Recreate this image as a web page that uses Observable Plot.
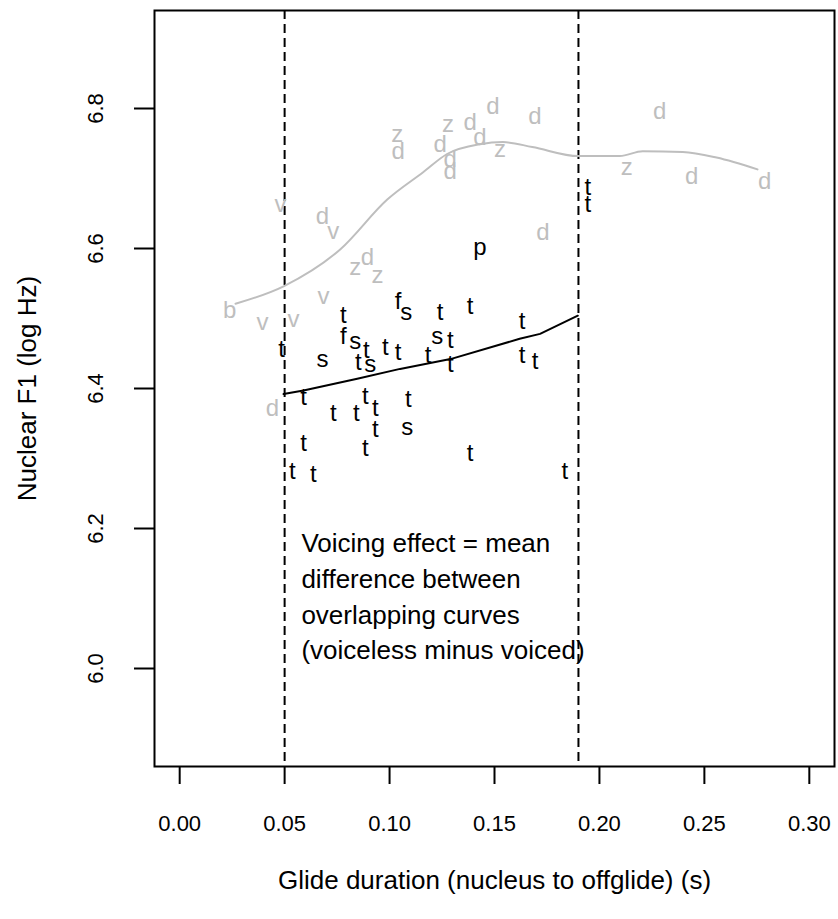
<!DOCTYPE html>
<html>
<head>
<meta charset="utf-8">
<script src="https://cdn.jsdelivr.net/npm/d3@7"></script>
<script src="https://cdn.jsdelivr.net/npm/@observablehq/plot@0.6"></script>
<style>
  html, body { margin: 0; padding: 0; background: #fff; }
</style>
</head>
<body>
<div id="chart"></div>
<script>
// Voiced tokens (grey letters)
const voicedLabel = ["b","v","v","v","v","d","v","z","d","z","z","d","d","d","z","d","d","d","d","z","d","d","d","z","d","d","d"];
const voicedX = [0.0238,0.0395,0.0542,0.048,0.0685,0.068,0.0732,0.0837,0.0894,0.0942,0.1037,0.1041,0.0442,0.1241,0.1279,0.1384,0.1431,0.1493,0.1693,0.1526,0.1289,0.1289,0.2287,0.213,0.2439,0.2787,0.1731];
const voicedY = [6.511,6.495,6.499,6.663,6.532,6.646,6.625,6.573,6.588,6.561,6.763,6.739,6.371,6.749,6.777,6.780,6.759,6.803,6.789,6.742,6.728,6.710,6.796,6.716,6.703,6.696,6.623];

// Voiceless tokens (black letters)
const voicelessLabel = ["t","s","t","f","s","t","t","s","t","t","f","s","t","t","s","t","t","t","t","t","t","p","t","t","t","t","t","t","t","t","t","s","t","t","t","t","t","t"];
const voicelessX = [0.0485,0.068,0.078,0.078,0.0837,0.0889,0.0851,0.0908,0.098,0.1041,0.1041,0.1079,0.1241,0.1384,0.1227,0.1289,0.1184,0.1289,0.1631,0.1631,0.1693,0.1431,0.1945,0.1945,0.059,0.0732,0.0842,0.0884,0.0932,0.0932,0.1089,0.1084,0.059,0.0884,0.0537,0.0637,0.1384,0.1835];
const voicelessY = [6.456,6.442,6.505,6.475,6.468,6.454,6.438,6.435,6.459,6.452,6.525,6.509,6.509,6.518,6.474,6.469,6.447,6.434,6.496,6.448,6.439,6.602,6.688,6.663,6.387,6.364,6.364,6.389,6.371,6.342,6.385,6.344,6.321,6.314,6.282,6.278,6.307,6.282];

// Smoothed curves
const voicedCurveX = [0.0266,0.0495,0.0766,0.0989,0.116,0.1274,0.1431,0.154,0.168,0.190,0.2097,0.2206,0.2397,0.2558,0.2753];
const voicedCurveY = [6.521,6.546,6.599,6.670,6.709,6.735,6.749,6.752,6.745,6.732,6.732,6.739,6.738,6.730,6.713];
const voicelessCurveX = [0.0495,0.059,0.0846,0.105,0.129,0.162,0.1717,0.1897];
const voicelessCurveY = [6.392,6.397,6.414,6.428,6.442,6.471,6.478,6.504];

// Overlap window
const overlapBounds = [0.05, 0.19];

// Axes
const xTicks = [0.00, 0.05, 0.10, 0.15, 0.20, 0.25, 0.30];
const yTicks = [6.0, 6.2, 6.4, 6.6, 6.8];
const xTitle = "Glide duration (nucleus to offglide) (s)";
const yTitle = "Nuclear F1 (log Hz)";
const note = "Voicing effect = mean\ndifference between\noverlapping curves\n(voiceless minus voiced)";

const voiced = voicedLabel.map((l, i) => ({label: l, x: voicedX[i], y: voicedY[i]}));
const voiceless = voicelessLabel.map((l, i) => ({label: l, x: voicelessX[i], y: voicelessY[i]}));
const voicedCurve = voicedCurveX.map((x, i) => ({x, y: voicedCurveY[i]}));
const voicelessCurve = voicelessCurveX.map((x, i) => ({x, y: voicelessCurveY[i]}));

const FONT = "'Liberation Sans', Arial, sans-serif";
const GREY = "#bebebe";

const chart = Plot.plot({
  width: 838,
  height: 919,
  marginLeft: 154,
  marginRight: 4,
  marginTop: 10,
  marginBottom: 153,
  style: {fontFamily: FONT, background: "#fff", overflow: "visible"},
  x: {domain: [-0.012, 0.312], axis: null},
  y: {domain: [5.86, 6.94], axis: null},
  marks: [
    Plot.ruleX(overlapBounds, {stroke: "#000", strokeWidth: 2, strokeDasharray: "9,5"}),
    Plot.line(voicedCurve, {x: "x", y: "y", stroke: GREY, strokeWidth: 2, curve: "monotone-x"}),
    Plot.line(voicelessCurve, {x: "x", y: "y", stroke: "#000", strokeWidth: 2}),
    Plot.text(voiced, {x: "x", y: "y", text: "label", fill: GREY, fontSize: 24}),
    Plot.text(voiceless, {x: "x", y: "y", text: "label", fill: "#000", fontSize: 24}),
    Plot.text([note], {x: 0.058, y: 6.202, text: d => d, textAnchor: "start", lineAnchor: "top", lineHeight: 1.37, fontSize: 26, fill: "#000"}),
    Plot.frame({stroke: "#000", strokeWidth: 2}),
    Plot.axisX(xTicks, {tickSize: 18, strokeWidth: 2, tickFormat: () => "", label: null}),
    Plot.axisY(yTicks, {tickSize: 20, strokeWidth: 2, tickFormat: () => "", label: null}),
    Plot.text(xTicks, {x: d => d, frameAnchor: "bottom", dy: 57, textAnchor: "middle", lineAnchor: "middle", text: d => d3.format(".2f")(d), fontSize: 22, fill: "#000"}),
    Plot.text(yTicks, {y: d => d, frameAnchor: "left", dx: -59, rotate: -90, textAnchor: "middle", lineAnchor: "middle", text: d => d3.format(".1f")(d), fontSize: 22, fill: "#000"}),
    Plot.text([xTitle], {frameAnchor: "bottom", dy: 114, textAnchor: "middle", lineAnchor: "middle", text: d => d, fontSize: 26, fill: "#000"}),
    Plot.text([yTitle], {frameAnchor: "left", dx: -127, rotate: -90, textAnchor: "middle", lineAnchor: "middle", text: d => d, fontSize: 26, fill: "#000"})
  ]
});
document.getElementById("chart").appendChild(chart);
</script>
</body>
</html>
